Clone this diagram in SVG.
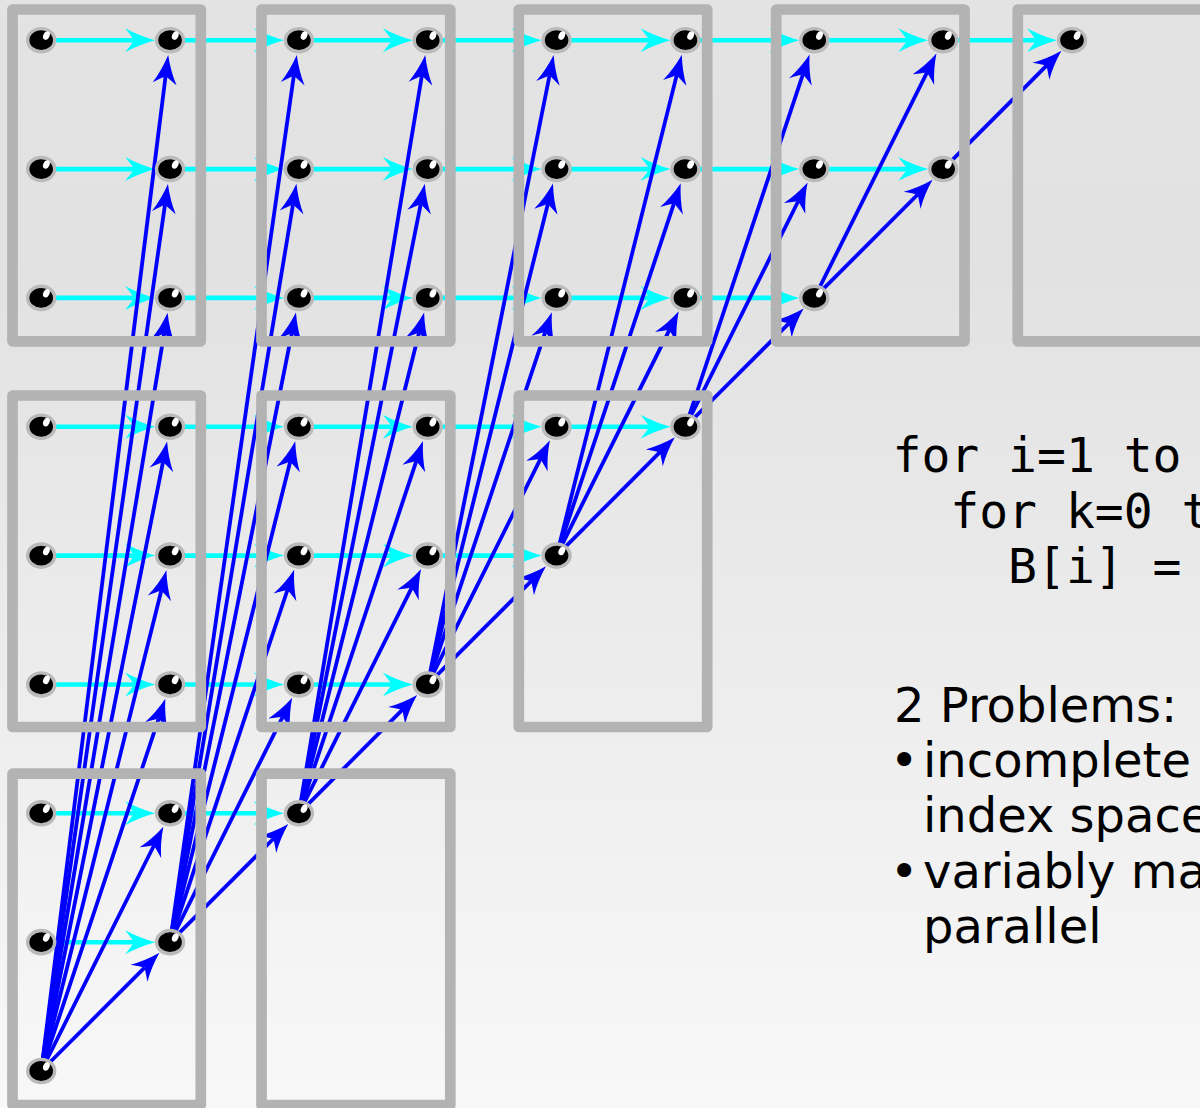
<svg xmlns="http://www.w3.org/2000/svg" width="1200" height="1108" viewBox="0 0 1200 1108">
<defs>
<linearGradient id="bgg" x1="0" y1="0" x2="0" y2="1">
<stop offset="0" stop-color="#e3e3e3"/>
<stop offset="0.25" stop-color="#e2e2e2"/>
<stop offset="1" stop-color="#f8f8f8"/>
</linearGradient>
<marker id="ac" markerUnits="userSpaceOnUse" markerWidth="40" markerHeight="40" orient="auto" overflow="visible" refX="0" refY="0"><path d="M21,0 Q5,-4.5 -9,-12 Q-2.5,-4 0,0 Q-2.5,4 -9,12 Q5,4.5 21,0Z" fill="#00ffff"/></marker>
<marker id="ab" markerUnits="userSpaceOnUse" markerWidth="40" markerHeight="40" orient="auto" overflow="visible" refX="0" refY="0"><path d="M21,0 Q5,-4.5 -8,-12 Q-2.5,-4 0,0 Q-2.5,4 -8,12 Q5,4.5 21,0Z" fill="#0000ff"/></marker>
<style>
.box{fill:none;stroke:#b3b3b3;stroke-width:10.7;stroke-linejoin:round}
.cy{fill:none;stroke:#00ffff;stroke-width:4.6;marker-end:url(#ac)}
.bl{fill:none;stroke:#0000ff;stroke-width:3.8;marker-end:url(#ab)}
.eye{fill:#000;stroke:#bababa;stroke-width:3.4}
.hl{fill:#fff}
.mono{font-family:"DejaVu Sans Mono",monospace;font-size:48px;fill:#000}
.sans{font-family:"DejaVu Sans",sans-serif;font-size:48px;fill:#000}
</style>
</defs>
<rect x="0" y="0" width="1200" height="1108" fill="url(#bgg)"/>

<g id="connectors">
<g id="cyan">
<path class="cy" d="M51.2 40.2H134.1"/><path class="cy" d="M180.1 40.2H262.9"/><path class="cy" d="M308.9 40.2H391.8"/><path class="cy" d="M437.8 40.2H520.6"/><path class="cy" d="M566.6 40.2H649.5"/><path class="cy" d="M695.5 40.2H778.3"/><path class="cy" d="M824.3 40.2H907.2"/><path class="cy" d="M953.2 40.2H1036"/>
<path class="cy" d="M51.2 169.1H134.1"/><path class="cy" d="M180.1 169.1H262.9"/><path class="cy" d="M308.9 169.1H391.8"/><path class="cy" d="M437.8 169.1H520.6"/><path class="cy" d="M566.6 169.1H649.5"/><path class="cy" d="M695.5 169.1H778.3"/><path class="cy" d="M824.3 169.1H907.2"/>
<path class="cy" d="M51.2 297.9H134.1"/><path class="cy" d="M180.1 297.9H262.9"/><path class="cy" d="M308.9 297.9H391.8"/><path class="cy" d="M437.8 297.9H520.6"/><path class="cy" d="M566.6 297.9H649.5"/><path class="cy" d="M695.5 297.9H778.3"/>
<path class="cy" d="M51.2 426.8H134.1"/><path class="cy" d="M180.1 426.8H262.9"/><path class="cy" d="M308.9 426.8H391.8"/><path class="cy" d="M437.8 426.8H520.6"/><path class="cy" d="M566.6 426.8H649.5"/>
<path class="cy" d="M51.2 555.6H134.1"/><path class="cy" d="M180.1 555.6H262.9"/><path class="cy" d="M308.9 555.6H391.8"/><path class="cy" d="M437.8 555.6H520.6"/>
<path class="cy" d="M51.2 684.5H134.1"/><path class="cy" d="M180.1 684.5H262.9"/><path class="cy" d="M308.9 684.5H391.8"/>
<path class="cy" d="M51.2 813.3H134.1"/><path class="cy" d="M180.1 813.3H262.9"/>
<path class="cy" d="M51.2 942.2H134.1"/>
</g>
<g id="blue">
<path class="bl" d="M41.2 1071L165.58 75.92"/><path class="bl" d="M41.2 1071L164.96 204.69"/><path class="bl" d="M41.2 1071L164.13 333.41"/><path class="bl" d="M41.2 1071L162.99 462.05"/><path class="bl" d="M41.2 1071L161.32 590.53"/><path class="bl" d="M41.2 1071L158.67 718.6"/><path class="bl" d="M41.2 1071L153.95 845.5"/><path class="bl" d="M41.2 1071L144.59 967.61"/>
<path class="bl" d="M170.05 942.15L293.81 75.84"/><path class="bl" d="M170.05 942.15L292.98 204.56"/><path class="bl" d="M170.05 942.15L291.84 333.2"/><path class="bl" d="M170.05 942.15L290.17 461.68"/><path class="bl" d="M170.05 942.15L287.52 589.75"/><path class="bl" d="M170.05 942.15L282.8 716.65"/><path class="bl" d="M170.05 942.15L273.44 838.76"/>
<path class="bl" d="M298.9 813.3L421.83 75.71"/><path class="bl" d="M298.9 813.3L420.69 204.35"/><path class="bl" d="M298.9 813.3L419.02 332.83"/><path class="bl" d="M298.9 813.3L416.37 460.9"/><path class="bl" d="M298.9 813.3L411.65 587.8"/><path class="bl" d="M298.9 813.3L402.29 709.91"/>
<path class="bl" d="M427.75 684.45L549.54 75.5"/><path class="bl" d="M427.75 684.45L547.87 203.98"/><path class="bl" d="M427.75 684.45L545.22 332.05"/><path class="bl" d="M427.75 684.45L540.5 458.95"/><path class="bl" d="M427.75 684.45L531.14 581.06"/>
<path class="bl" d="M556.6 555.6L676.72 75.13"/><path class="bl" d="M556.6 555.6L674.07 203.2"/><path class="bl" d="M556.6 555.6L669.35 330.1"/><path class="bl" d="M556.6 555.6L659.99 452.21"/>
<path class="bl" d="M685.45 426.75L802.92 74.35"/><path class="bl" d="M685.45 426.75L798.2 201.25"/><path class="bl" d="M685.45 426.75L788.84 323.36"/>
<path class="bl" d="M814.3 297.9L927.05 72.4"/><path class="bl" d="M814.3 297.9L917.69 194.51"/>
<path class="bl" d="M943.15 169.05L1046.54 65.66"/>
</g>
</g>

<g id="boxes">
<rect id="box-1-1" class="box" x="12.5" y="9.5" width="188.3" height="331.8"/>
<rect id="box-1-2" class="box" x="261.5" y="9.5" width="188.8" height="331.8"/>
<rect id="box-1-3" class="box" x="518.8" y="9.5" width="188.4" height="331.8"/>
<rect id="box-1-4" class="box" x="776.2" y="9.5" width="188.3" height="331.8"/>
<rect id="box-1-5" class="box" x="1017.8" y="9.5" width="188.4" height="331.8"/>
<rect id="box-2-1" class="box" x="12.5" y="395.5" width="188.3" height="331.5"/>
<rect id="box-2-2" class="box" x="261.5" y="395.5" width="188.8" height="331.5"/>
<rect id="box-2-3" class="box" x="518.8" y="395.5" width="188.4" height="331.5"/>
<rect id="box-3-1" class="box" x="12.5" y="773.7" width="188.3" height="331.3"/>
<rect id="box-3-2" class="box" x="261.5" y="773.7" width="188.8" height="331.3"/>
</g>

<g id="nodes">
<g id="n0-0" transform="translate(41.2 40.2)"><ellipse class="eye" rx="13.5" ry="11.6"/><ellipse class="hl" cx="5.2" cy="-4.6" rx="3.1" ry="4.4" transform="rotate(25 5.2 -4.6)"/></g>
<g id="n0-1" transform="translate(170.05 40.2)"><ellipse class="eye" rx="13.5" ry="11.6"/><ellipse class="hl" cx="5.2" cy="-4.6" rx="3.1" ry="4.4" transform="rotate(25 5.2 -4.6)"/></g>
<g id="n0-2" transform="translate(298.9 40.2)"><ellipse class="eye" rx="13.5" ry="11.6"/><ellipse class="hl" cx="5.2" cy="-4.6" rx="3.1" ry="4.4" transform="rotate(25 5.2 -4.6)"/></g>
<g id="n0-3" transform="translate(427.75 40.2)"><ellipse class="eye" rx="13.5" ry="11.6"/><ellipse class="hl" cx="5.2" cy="-4.6" rx="3.1" ry="4.4" transform="rotate(25 5.2 -4.6)"/></g>
<g id="n0-4" transform="translate(556.6 40.2)"><ellipse class="eye" rx="13.5" ry="11.6"/><ellipse class="hl" cx="5.2" cy="-4.6" rx="3.1" ry="4.4" transform="rotate(25 5.2 -4.6)"/></g>
<g id="n0-5" transform="translate(685.45 40.2)"><ellipse class="eye" rx="13.5" ry="11.6"/><ellipse class="hl" cx="5.2" cy="-4.6" rx="3.1" ry="4.4" transform="rotate(25 5.2 -4.6)"/></g>
<g id="n0-6" transform="translate(814.3 40.2)"><ellipse class="eye" rx="13.5" ry="11.6"/><ellipse class="hl" cx="5.2" cy="-4.6" rx="3.1" ry="4.4" transform="rotate(25 5.2 -4.6)"/></g>
<g id="n0-7" transform="translate(943.15 40.2)"><ellipse class="eye" rx="13.5" ry="11.6"/><ellipse class="hl" cx="5.2" cy="-4.6" rx="3.1" ry="4.4" transform="rotate(25 5.2 -4.6)"/></g>
<g id="n0-8" transform="translate(1072 40.2)"><ellipse class="eye" rx="13.5" ry="11.6"/><ellipse class="hl" cx="5.2" cy="-4.6" rx="3.1" ry="4.4" transform="rotate(25 5.2 -4.6)"/></g>
<g id="n1-0" transform="translate(41.2 169.05)"><ellipse class="eye" rx="13.5" ry="11.6"/><ellipse class="hl" cx="5.2" cy="-4.6" rx="3.1" ry="4.4" transform="rotate(25 5.2 -4.6)"/></g>
<g id="n1-1" transform="translate(170.05 169.05)"><ellipse class="eye" rx="13.5" ry="11.6"/><ellipse class="hl" cx="5.2" cy="-4.6" rx="3.1" ry="4.4" transform="rotate(25 5.2 -4.6)"/></g>
<g id="n1-2" transform="translate(298.9 169.05)"><ellipse class="eye" rx="13.5" ry="11.6"/><ellipse class="hl" cx="5.2" cy="-4.6" rx="3.1" ry="4.4" transform="rotate(25 5.2 -4.6)"/></g>
<g id="n1-3" transform="translate(427.75 169.05)"><ellipse class="eye" rx="13.5" ry="11.6"/><ellipse class="hl" cx="5.2" cy="-4.6" rx="3.1" ry="4.4" transform="rotate(25 5.2 -4.6)"/></g>
<g id="n1-4" transform="translate(556.6 169.05)"><ellipse class="eye" rx="13.5" ry="11.6"/><ellipse class="hl" cx="5.2" cy="-4.6" rx="3.1" ry="4.4" transform="rotate(25 5.2 -4.6)"/></g>
<g id="n1-5" transform="translate(685.45 169.05)"><ellipse class="eye" rx="13.5" ry="11.6"/><ellipse class="hl" cx="5.2" cy="-4.6" rx="3.1" ry="4.4" transform="rotate(25 5.2 -4.6)"/></g>
<g id="n1-6" transform="translate(814.3 169.05)"><ellipse class="eye" rx="13.5" ry="11.6"/><ellipse class="hl" cx="5.2" cy="-4.6" rx="3.1" ry="4.4" transform="rotate(25 5.2 -4.6)"/></g>
<g id="n1-7" transform="translate(943.15 169.05)"><ellipse class="eye" rx="13.5" ry="11.6"/><ellipse class="hl" cx="5.2" cy="-4.6" rx="3.1" ry="4.4" transform="rotate(25 5.2 -4.6)"/></g>
<g id="n2-0" transform="translate(41.2 297.9)"><ellipse class="eye" rx="13.5" ry="11.6"/><ellipse class="hl" cx="5.2" cy="-4.6" rx="3.1" ry="4.4" transform="rotate(25 5.2 -4.6)"/></g>
<g id="n2-1" transform="translate(170.05 297.9)"><ellipse class="eye" rx="13.5" ry="11.6"/><ellipse class="hl" cx="5.2" cy="-4.6" rx="3.1" ry="4.4" transform="rotate(25 5.2 -4.6)"/></g>
<g id="n2-2" transform="translate(298.9 297.9)"><ellipse class="eye" rx="13.5" ry="11.6"/><ellipse class="hl" cx="5.2" cy="-4.6" rx="3.1" ry="4.4" transform="rotate(25 5.2 -4.6)"/></g>
<g id="n2-3" transform="translate(427.75 297.9)"><ellipse class="eye" rx="13.5" ry="11.6"/><ellipse class="hl" cx="5.2" cy="-4.6" rx="3.1" ry="4.4" transform="rotate(25 5.2 -4.6)"/></g>
<g id="n2-4" transform="translate(556.6 297.9)"><ellipse class="eye" rx="13.5" ry="11.6"/><ellipse class="hl" cx="5.2" cy="-4.6" rx="3.1" ry="4.4" transform="rotate(25 5.2 -4.6)"/></g>
<g id="n2-5" transform="translate(685.45 297.9)"><ellipse class="eye" rx="13.5" ry="11.6"/><ellipse class="hl" cx="5.2" cy="-4.6" rx="3.1" ry="4.4" transform="rotate(25 5.2 -4.6)"/></g>
<g id="n2-6" transform="translate(814.3 297.9)"><ellipse class="eye" rx="13.5" ry="11.6"/><ellipse class="hl" cx="5.2" cy="-4.6" rx="3.1" ry="4.4" transform="rotate(25 5.2 -4.6)"/></g>
<g id="n3-0" transform="translate(41.2 426.75)"><ellipse class="eye" rx="13.5" ry="11.6"/><ellipse class="hl" cx="5.2" cy="-4.6" rx="3.1" ry="4.4" transform="rotate(25 5.2 -4.6)"/></g>
<g id="n3-1" transform="translate(170.05 426.75)"><ellipse class="eye" rx="13.5" ry="11.6"/><ellipse class="hl" cx="5.2" cy="-4.6" rx="3.1" ry="4.4" transform="rotate(25 5.2 -4.6)"/></g>
<g id="n3-2" transform="translate(298.9 426.75)"><ellipse class="eye" rx="13.5" ry="11.6"/><ellipse class="hl" cx="5.2" cy="-4.6" rx="3.1" ry="4.4" transform="rotate(25 5.2 -4.6)"/></g>
<g id="n3-3" transform="translate(427.75 426.75)"><ellipse class="eye" rx="13.5" ry="11.6"/><ellipse class="hl" cx="5.2" cy="-4.6" rx="3.1" ry="4.4" transform="rotate(25 5.2 -4.6)"/></g>
<g id="n3-4" transform="translate(556.6 426.75)"><ellipse class="eye" rx="13.5" ry="11.6"/><ellipse class="hl" cx="5.2" cy="-4.6" rx="3.1" ry="4.4" transform="rotate(25 5.2 -4.6)"/></g>
<g id="n3-5" transform="translate(685.45 426.75)"><ellipse class="eye" rx="13.5" ry="11.6"/><ellipse class="hl" cx="5.2" cy="-4.6" rx="3.1" ry="4.4" transform="rotate(25 5.2 -4.6)"/></g>
<g id="n4-0" transform="translate(41.2 555.6)"><ellipse class="eye" rx="13.5" ry="11.6"/><ellipse class="hl" cx="5.2" cy="-4.6" rx="3.1" ry="4.4" transform="rotate(25 5.2 -4.6)"/></g>
<g id="n4-1" transform="translate(170.05 555.6)"><ellipse class="eye" rx="13.5" ry="11.6"/><ellipse class="hl" cx="5.2" cy="-4.6" rx="3.1" ry="4.4" transform="rotate(25 5.2 -4.6)"/></g>
<g id="n4-2" transform="translate(298.9 555.6)"><ellipse class="eye" rx="13.5" ry="11.6"/><ellipse class="hl" cx="5.2" cy="-4.6" rx="3.1" ry="4.4" transform="rotate(25 5.2 -4.6)"/></g>
<g id="n4-3" transform="translate(427.75 555.6)"><ellipse class="eye" rx="13.5" ry="11.6"/><ellipse class="hl" cx="5.2" cy="-4.6" rx="3.1" ry="4.4" transform="rotate(25 5.2 -4.6)"/></g>
<g id="n4-4" transform="translate(556.6 555.6)"><ellipse class="eye" rx="13.5" ry="11.6"/><ellipse class="hl" cx="5.2" cy="-4.6" rx="3.1" ry="4.4" transform="rotate(25 5.2 -4.6)"/></g>
<g id="n5-0" transform="translate(41.2 684.45)"><ellipse class="eye" rx="13.5" ry="11.6"/><ellipse class="hl" cx="5.2" cy="-4.6" rx="3.1" ry="4.4" transform="rotate(25 5.2 -4.6)"/></g>
<g id="n5-1" transform="translate(170.05 684.45)"><ellipse class="eye" rx="13.5" ry="11.6"/><ellipse class="hl" cx="5.2" cy="-4.6" rx="3.1" ry="4.4" transform="rotate(25 5.2 -4.6)"/></g>
<g id="n5-2" transform="translate(298.9 684.45)"><ellipse class="eye" rx="13.5" ry="11.6"/><ellipse class="hl" cx="5.2" cy="-4.6" rx="3.1" ry="4.4" transform="rotate(25 5.2 -4.6)"/></g>
<g id="n5-3" transform="translate(427.75 684.45)"><ellipse class="eye" rx="13.5" ry="11.6"/><ellipse class="hl" cx="5.2" cy="-4.6" rx="3.1" ry="4.4" transform="rotate(25 5.2 -4.6)"/></g>
<g id="n6-0" transform="translate(41.2 813.3)"><ellipse class="eye" rx="13.5" ry="11.6"/><ellipse class="hl" cx="5.2" cy="-4.6" rx="3.1" ry="4.4" transform="rotate(25 5.2 -4.6)"/></g>
<g id="n6-1" transform="translate(170.05 813.3)"><ellipse class="eye" rx="13.5" ry="11.6"/><ellipse class="hl" cx="5.2" cy="-4.6" rx="3.1" ry="4.4" transform="rotate(25 5.2 -4.6)"/></g>
<g id="n6-2" transform="translate(298.9 813.3)"><ellipse class="eye" rx="13.5" ry="11.6"/><ellipse class="hl" cx="5.2" cy="-4.6" rx="3.1" ry="4.4" transform="rotate(25 5.2 -4.6)"/></g>
<g id="n7-0" transform="translate(41.2 942.15)"><ellipse class="eye" rx="13.5" ry="11.6"/><ellipse class="hl" cx="5.2" cy="-4.6" rx="3.1" ry="4.4" transform="rotate(25 5.2 -4.6)"/></g>
<g id="n7-1" transform="translate(170.05 942.15)"><ellipse class="eye" rx="13.5" ry="11.6"/><ellipse class="hl" cx="5.2" cy="-4.6" rx="3.1" ry="4.4" transform="rotate(25 5.2 -4.6)"/></g>
<g id="n8-0" transform="translate(41.2 1071)"><ellipse class="eye" rx="13.5" ry="11.6"/><ellipse class="hl" cx="5.2" cy="-4.6" rx="3.1" ry="4.4" transform="rotate(25 5.2 -4.6)"/></g>
</g>

<g id="code">
<text class="mono" x="892.5" y="471.5">for i=1 to</text>
<text class="mono" x="950.3" y="527.5">for k=0 t</text>
<text class="mono" x="1008.1" y="583">B[i] =</text>
</g>
<g id="notes">
<text class="sans" x="894" y="722">2 Problems:</text>
<text class="sans" x="890" y="777">•</text>
<text class="sans" x="923" y="777">incomplete</text>
<text class="sans" x="923" y="832">index space</text>
<text class="sans" x="890" y="888">•</text>
<text class="sans" x="923" y="888">variably ma</text>
<text class="sans" x="923" y="943">parallel</text>
</g>
</svg>
